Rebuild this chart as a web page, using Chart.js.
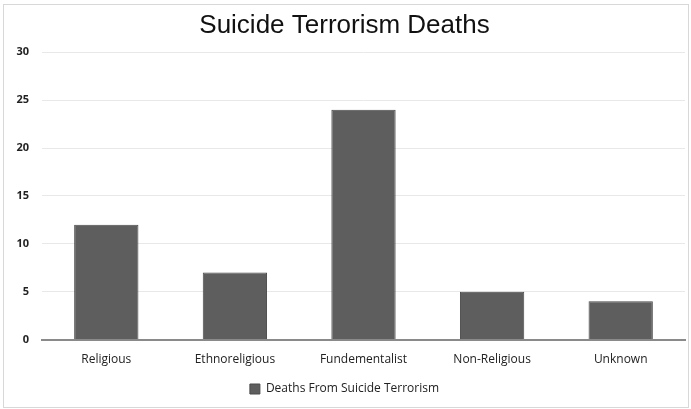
<!DOCTYPE html>
<html>
<head>
<meta charset="utf-8">
<script src="https://cdn.jsdelivr.net/npm/chart.js@4/dist/chart.umd.min.js"></script>
<style>
  html, body { margin: 0; padding: 0; background: #fff; }
  #wrap { position: absolute; left: 3px; top: 4px; width: 686px; height: 404px; border: 1px solid #d8d8d8; box-sizing: border-box; }
  canvas { display: block; }
</style>
</head>
<body>
<div id="wrap"><canvas id="myChart"></canvas></div>
<script>
var categories = ["Religious", "Ethnoreligious", "Fundementalist", "Non-Religious", "Unknown"];
var deaths = [12, 7, 24, 5, 4];
var yTicks = [0, 5, 10, 15, 20, 25, 30];

var ctx = document.getElementById("myChart").getContext("2d");
var chart = new Chart(ctx, {
  type: "bar",
  data: {
    labels: categories,
    datasets: [
      {
        label: "Deaths From Suicide Terrorism",
        backgroundColor: "#5e5e5e",
        borderColor: "#4a4a4a",
        borderWidth: 1,
        data: deaths,
        categoryPercentage: 0.5,
        barPercentage: 1.0,
      },
    ],
  },
  options: {
    responsive: true,
    maintainAspectRatio: false,
    animation: false,
    layout: { padding: { left: 0, right: 3, top: 2, bottom: 2 } },
    plugins: {
      title: {
        display: true,
        text: "Suicide Terrorism Deaths",
        color: "#111",
        font: { family: "Liberation Sans, Arial", size: 26, weight: "normal" },
        padding: { top: 3, bottom: 11 },
      },
      legend: {
        display: true,
        position: "bottom",
        labels: {
          color: "#222",
          font: { family: "Open Sans", size: 12 },
          boxWidth: 10,
          boxHeight: 10,
          padding: 11,
        },
      },
      tooltip: { enabled: false },
    },
    scales: {
      x: {
        grid: { display: false },
        border: { color: "#8a8a8a", width: 2 },
        ticks: { color: "#222", font: { family: "Open Sans", size: 12 }, padding: 5 },
      },
      y: {
        min: 0,
        max: 30,
        afterBuildTicks: function (axis) {
          axis.ticks = yTicks.map(function (v) { return { value: v }; });
        },
        afterFit: function (axis) { axis.width = 38; },
        grid: { color: "#e8e8e8", drawTicks: false },
        border: { display: false },
        ticks: { color: "#222", font: { family: "Open Sans", size: 11, weight: "bold" }, padding: 13 },
      },
    },
  },
});
</script>
</body>
</html>
